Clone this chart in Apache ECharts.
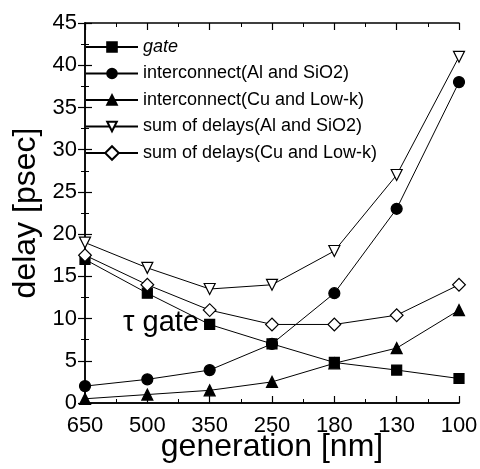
<!DOCTYPE html>
<html>
<head>
<meta charset="utf-8">
<script src="https://cdn.jsdelivr.net/npm/echarts@6/dist/echarts.min.js"></script>
<style>
  html, body { margin: 0; padding: 0; background: #fff; }
  #main { width: 480px; height: 469px; }
</style>
</head>
<body>
<div id="main"></div>
<script>
  // generations, nm
  const generations = ['650', '500', '350', '250', '180', '130', '100'];
  // delays, psec
  const gate = [17, 13, 9.3, 7, 4.8, 3.9, 2.9];
  const interAl = [2, 2.8, 3.9, 7, 13, 23, 38];
  const interCu = [0.5, 1, 1.5, 2.5, 4.7, 6.5, 11];
  const sumAl = [19, 16, 13.5, 14, 18, 27, 41];
  const sumCu = [17.5, 14, 11, 9.3, 9.3, 10.4, 14];

  const yTicks = [0, 45, 5];

  let chart = echarts.init(document.getElementById('main'));
  const font = '"Liberation Sans", Arial, sans-serif';

  function line(name, data, symbol, filled, opts) {
    return Object.assign({
      name: name,
      type: 'line',
      data: data,
      symbol: symbol,
      symbolSize: 10,
      showAllSymbol: true,
      lineStyle: { color: '#000', width: 1 },
      itemStyle: { color: filled ? '#000' : '#fff', borderColor: '#000', borderWidth: 1.2 },
      emphasis: { disabled: true },
      animation: false
    }, opts || {});
  }

  // ticks-only value axes laid over the category axis
  function tickAxis(pos) {
    return {
      type: 'value', position: pos, min: 0, max: generations.length - 1, interval: 1,
      axisLine: { show: true, lineStyle: { color: '#000', width: 1.5 } },
      axisLabel: { show: false },
      axisTick: { show: true, inside: true, length: 7, lineStyle: { color: '#000', width: 1.2 } },
      minorTick: { show: true, splitNumber: 2, length: 4, lineStyle: { color: '#000', width: 1 } },
      splitLine: { show: false }
    };
  }

  function yAxis(pos, labels) {
    return {
      type: 'value', position: pos, min: yTicks[0], max: yTicks[1], interval: yTicks[2],
      name: labels ? 'delay [psec]' : '',
      nameLocation: 'middle',
      nameGap: 43,
      nameMoveOverlap: false,
      nameTextStyle: { fontFamily: font, fontSize: 32, color: '#000' },
      axisLine: { show: true, lineStyle: { color: '#000', width: 1.5 } },
      axisLabel: { show: labels, fontFamily: font, fontSize: 22, color: '#000', margin: 8 },
      axisTick: { show: true, inside: true, length: 7, lineStyle: { color: '#000', width: 1.2 } },
      minorTick: { show: true, splitNumber: 2, length: 4, lineStyle: { color: '#000', width: 1 } },
      splitLine: { show: false }
    };
  }

  let option = {
    backgroundColor: '#fff',
    grid: { left: 85, right: 21, top: 23, bottom: 66, outerBoundsMode: 'none' },
    legend: {
      left: 85, top: 38, padding: 0,
      orient: 'vertical',
      itemWidth: 52, itemHeight: 12, itemGap: 8.5,
      textStyle: {
        fontFamily: font, fontSize: 18, color: '#000',
        rich: { i: { fontFamily: font, fontSize: 18, fontStyle: 'italic', color: '#000' } }
      },
      formatter: function (n) { return n === 'gate' ? '{i|gate}' : n; },
      data: ['gate', 'interconnect(Al and SiO2)', 'interconnect(Cu and Low-k)',
             'sum of delays(Al and SiO2)', 'sum of delays(Cu and Low-k)']
    },
    xAxis: [
      {
        type: 'category', data: generations, boundaryGap: false, position: 'bottom',
        name: 'generation [nm]', nameLocation: 'middle', nameGap: 28,
        nameMoveOverlap: false,
        nameTextStyle: { fontFamily: font, fontSize: 32, color: '#000' },
        axisLine: { show: true, lineStyle: { color: '#000', width: 1.5 } },
        axisTick: { show: false },
        axisLabel: { fontFamily: font, fontSize: 22, color: '#000', margin: 12 },
        splitLine: { show: false }
      },
      tickAxis('bottom'),
      tickAxis('top')
    ],
    yAxis: [yAxis('left', true), yAxis('right', false)],
    series: [
      line('gate', gate, 'rect', true),
      line('interconnect(Al and SiO2)', interAl, 'circle', true, { symbolSize: 11 }),
      line('interconnect(Cu and Low-k)', interCu, 'triangle', true, { symbolSize: 11 }),
      line('sum of delays(Al and SiO2)', sumAl, 'triangle', false, { symbolSize: 11, symbolRotate: 180 }),
      line('sum of delays(Cu and Low-k)', sumCu, 'rect', false, { symbolSize: 9, symbolRotate: 45 })
    ],
    graphic: [{
      type: 'text', left: 123, top: 308,
      style: { text: 'τ gate', fontFamily: font, fontSize: 29, fill: '#000' }
    }]
  };
  chart.setOption(option);
</script>
</body>
</html>
